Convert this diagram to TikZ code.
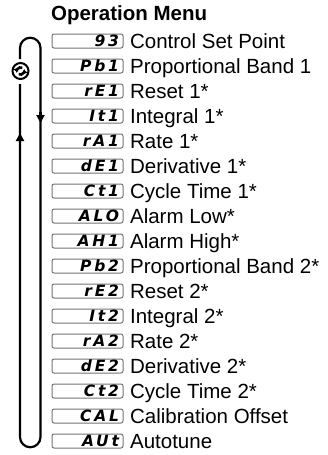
\documentclass[tikz,border=0pt]{standalone}
\usepackage{fontspec}
\setmainfont{Liberation Sans}
\newfontfamily\segfont[LetterSpace=18]{DejaVu Sans}
\usetikzlibrary{arrows.meta}

\begin{document}
\begin{tikzpicture}[x=1pt, y=1pt, line width=2.2pt,
  dispbox/.style={draw=black!55, line width=1pt, rounded corners=2pt,
    minimum height=14pt, text width=63pt, inner xsep=4pt, inner ysep=0pt,
    align=right, font=\segfont\bfseries\itshape\fontsize{15.5}{15.5}\selectfont},
  menutext/.style={anchor=base west, inner sep=0pt,
    font=\fontsize{20.5}{22}\selectfont},
  flow/.style={-{Triangle[length=8pt, width=8pt]}}]
  \useasboundingbox (0,0) rectangle (328,-455);
  % titulo
  \node[anchor=base west, inner sep=0pt,
        font=\bfseries\fontsize{20.5}{22}\selectfont] (title) at (50,-20.5) {Operation Menu};
  % parametros del menu
  \foreach \d/\t [count=\i from 0] in {93/Control Set Point, Pb1/Proportional Band 1,
      rE1/Reset 1*, It1/Integral 1*, rA1/Rate 1*, dE1/Derivative 1*,
      Ct1/Cycle Time 1*, ALO/Alarm Low*, AH1/Alarm High*,
      Pb2/Proportional Band 2*, rE2/Reset 2*, It2/Integral 2*, rA2/Rate 2*,
      dE2/Derivative 2*, Ct2/Cycle Time 2*, CAL/Calibration Offset, AUt/Autotune}{
    \pgfmathsetmacro{\y}{-41-25*\i}
    \node[dispbox] (d\i) at (87.5,\y) {\d};
    \node[menutext] (l\i) at (129,\y-7.4) {\t};
  }
  % lazo
  \coordinate (ltop) at (20,-59);
  \coordinate (lbot) at (20,-84);
  \draw (ltop) -- ++(0,11) arc (180:0:10.25) -- (40.5,-437) arc (0:-180:10.25) -- (lbot);
  \draw[flow] (40.5,-112) -- (40.5,-123);
  \draw[flow] (20,-143) -- (20,-133);
  % simbolo de ciclo
  \node[circle, draw, line width=2pt, minimum size=16pt, inner sep=0pt] (cyc) at (20.5,-71) {};
  \draw[line width=2.6pt, -{Triangle[length=3.5pt, width=5.5pt]}]
        (cyc.center) ++(60:3.6) arc (60:195:3.6);
  \draw[line width=2.6pt, -{Triangle[length=3.5pt, width=5.5pt]}]
        (cyc.center) ++(240:3.6) arc (240:375:3.6);
\end{tikzpicture}
\end{document}
